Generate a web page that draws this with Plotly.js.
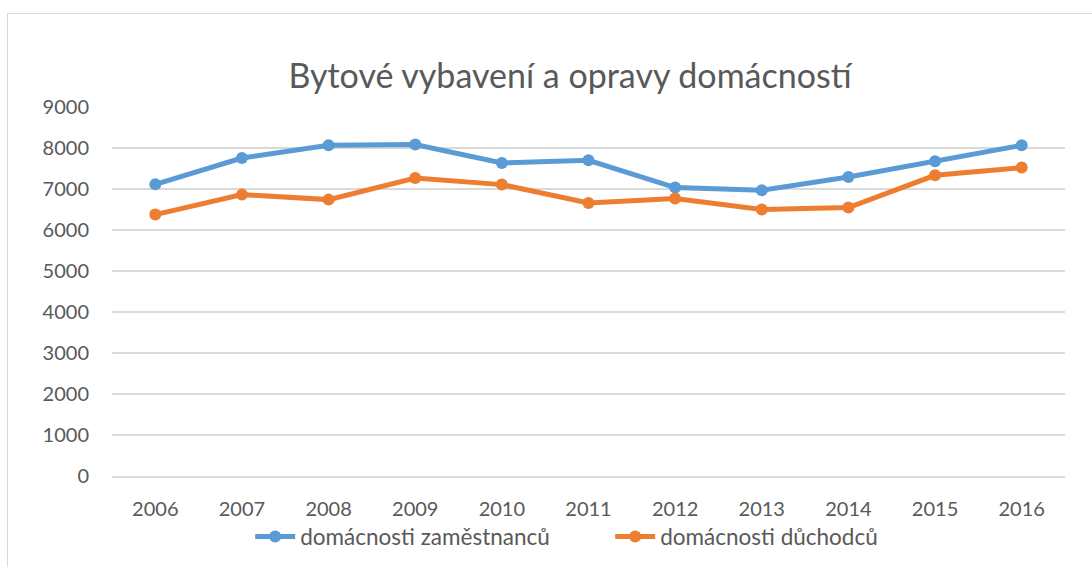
<!DOCTYPE html>
<html>
<head>
<meta charset="utf-8">
<script src="https://cdn.plot.ly/plotly-3.0.1.min.js"></script>
<style>
  html, body { margin: 0; padding: 0; background: #fff; overflow: hidden; }
  #frame { position: absolute; left: 7px; top: 13px; width: 1120px; height: 600px; border: 1.5px solid #d9d9d9; box-sizing: border-box; }
  #chart { position: absolute; left: 0; top: 0; width: 1092px; height: 567px; }
</style>
</head>
<body>
<div id="frame"></div>
<div id="chart"></div>
<script>
const years = ["2006","2007","2008","2009","2010","2011","2012","2013","2014","2015","2016"];
const zamestnanci = [7115, 7756, 8066, 8083, 7634, 7700, 7034, 6968, 7293, 7676, 8066];
const duchodci = [6376, 6863, 6741, 7268, 7107, 6659, 6766, 6498, 6546, 7334, 7522];
const yTicks = [0, 1000, 2000, 3000, 4000, 5000, 6000, 7000, 8000, 9000];

const FONT = "Lato, 'Open Sans', sans-serif";
const TXT = "#595959";

const traces = [
  {
    x: years, y: zamestnanci, name: "domácnosti zaměstnanců",
    type: "scatter", mode: "lines+markers",
    line: { color: "#5B9BD5", width: 5 },
    marker: { color: "#5B9BD5", size: 12 }
  },
  {
    x: years, y: duchodci, name: "domácnosti důchodců",
    type: "scatter", mode: "lines+markers",
    line: { color: "#ED7D31", width: 5 },
    marker: { color: "#ED7D31", size: 12 }
  }
];

const layout = {
  width: 1092, height: 567,
  paper_bgcolor: "rgba(0,0,0,0)", plot_bgcolor: "rgba(0,0,0,0)",
  margin: { l: 112, r: 27, t: 107, b: 91, autoexpand: false },
  title: {
    text: "Bytové vybavení a opravy domácností",
    font: { family: FONT, size: 34, color: TXT },
    x: 0.522, xanchor: "center", y: 0.866, yanchor: "middle"
  },
  xaxis: {
    type: "category", range: [-0.5, 10.5], automargin: false,
    showgrid: false, zeroline: false,
    showline: true, linecolor: "#d9d9d9", linewidth: 1.5,
    ticks: "", ticklabelstandoff: 14,
    tickfont: { family: FONT, size: 20, color: TXT },
    fixedrange: true
  },
  yaxis: {
    range: [0, 9000], tickvals: yTicks, ticktext: yTicks.map(String), automargin: false,
    showgrid: true, gridcolor: "#d9d9d9", gridwidth: 1.5,
    zeroline: false, showline: false, ticks: "",
    ticklabelstandoff: 22,
    tickfont: { family: FONT, size: 20, color: TXT },
    fixedrange: true
  },
  showlegend: true,
  legend: {
    orientation: "h", x: 0.145, xanchor: "left", y: -0.165, yanchor: "middle",
    font: { family: FONT, size: 22.5, color: TXT },
    itemwidth: 40, entrywidth: 305, bgcolor: "rgba(0,0,0,0)"
  }
};

Plotly.newPlot("chart", traces, layout, { displayModeBar: false, staticPlot: true });
</script>
</body>
</html>
